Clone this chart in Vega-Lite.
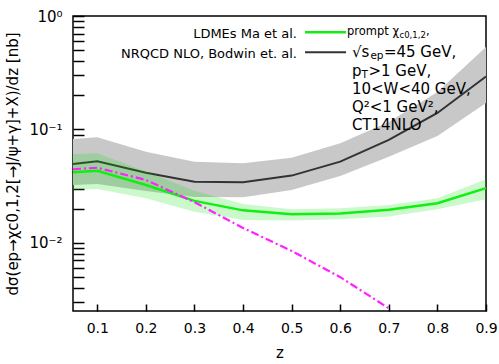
{
  "$schema": "https://vega.github.io/schema/vega-lite/v6.json",
  "width": 413,
  "height": 295,
  "autosize": {"type": "none"},
  "padding": {"left": 73, "top": 16, "right": 13, "bottom": 53},
  "config": {
    "font": "DejaVu Sans",
    "view": {"stroke": "black", "strokeWidth": 1.5},
    "axis": {"grid": false, "zindex": 1, "domain": false, "labelColor": "black", "titleColor": "black", "labelFont": "DejaVu Sans", "titleFont": "DejaVu Sans", "titleFontWeight": "normal"}
  },
  "data": {"values": [
    {"z": 0.05, "series": "NRQCD", "y": 0.0495, "lo": 0.0323, "hi": 0.0823},
    {"z": 0.1, "series": "NRQCD", "y": 0.0523, "lo": 0.0330, "hi": 0.0851},
    {"z": 0.2, "series": "NRQCD", "y": 0.0415, "lo": 0.0286, "hi": 0.0636},
    {"z": 0.3, "series": "NRQCD", "y": 0.0346, "lo": 0.0253, "hi": 0.0519},
    {"z": 0.4, "series": "NRQCD", "y": 0.0341, "lo": 0.0252, "hi": 0.0502},
    {"z": 0.5, "series": "NRQCD", "y": 0.0391, "lo": 0.0292, "hi": 0.0563},
    {"z": 0.6, "series": "NRQCD", "y": 0.0519, "lo": 0.0388, "hi": 0.0754},
    {"z": 0.7, "series": "NRQCD", "y": 0.0807, "lo": 0.0574, "hi": 0.116},
    {"z": 0.8, "series": "NRQCD", "y": 0.1395, "lo": 0.0874, "hi": 0.214},
    {"z": 0.9, "series": "NRQCD", "y": 0.293, "lo": 0.171, "hi": 0.533},
    {"z": 0.05, "series": "LDME", "y": 0.0418, "lo": 0.0292, "hi": 0.0603},
    {"z": 0.1, "series": "LDME", "y": 0.0432, "lo": 0.0298, "hi": 0.0616},
    {"z": 0.2, "series": "LDME", "y": 0.0323, "lo": 0.0247, "hi": 0.0424},
    {"z": 0.3, "series": "LDME", "y": 0.0234, "lo": 0.0188, "hi": 0.0288},
    {"z": 0.4, "series": "LDME", "y": 0.0193, "lo": 0.0159, "hi": 0.0220},
    {"z": 0.5, "series": "LDME", "y": 0.0178, "lo": 0.0157, "hi": 0.0197},
    {"z": 0.6, "series": "LDME", "y": 0.0181, "lo": 0.0161, "hi": 0.0201},
    {"z": 0.7, "series": "LDME", "y": 0.0195, "lo": 0.0170, "hi": 0.0215},
    {"z": 0.8, "series": "LDME", "y": 0.0223, "lo": 0.0197, "hi": 0.0247},
    {"z": 0.9, "series": "LDME", "y": 0.0303, "lo": 0.0242, "hi": 0.0363},
    {"z": 0.05, "series": "dashdot", "y": 0.0445},
    {"z": 0.1, "series": "dashdot", "y": 0.0459},
    {"z": 0.2, "series": "dashdot", "y": 0.0358},
    {"z": 0.3, "series": "dashdot", "y": 0.0228},
    {"z": 0.4, "series": "dashdot", "y": 0.0135},
    {"z": 0.5, "series": "dashdot", "y": 0.00847},
    {"z": 0.6, "series": "dashdot", "y": 0.00497},
    {"z": 0.7, "series": "dashdot", "y": 0.00264}
  ]},
  "layer": [
    {
      "transform": [{"filter": "datum.series === 'NRQCD'"}],
      "mark": {"type": "area", "color": "#c8c8c8", "opacity": 1},
      "encoding": {
        "x": {"field": "z", "type": "quantitative", "title": "z",
          "scale": {"domain": [0.05, 0.9], "nice": false, "zero": false},
          "axis": {"values": [0.1, 0.2, 0.3, 0.4, 0.5, 0.6, 0.7, 0.8, 0.9], "format": ".1f", "ticks": true, "tickColor": "black", "tickWidth": 1.5, "offset": -7, "tickSize": 7, "labelPadding": 10, "labelFontSize": 14, "titleFontSize": 15, "titlePadding": 10, "labelFlush": false}},
        "y": {"field": "lo", "type": "quantitative", "title": "dσ(ep→χc0,1,2[→J/ψ+γ]+X)/dz [nb]",
          "scale": {"type": "log", "domain": [0.0025, 1], "nice": false},
          "axis": {
            "values": [0.003, 0.004, 0.005, 0.006, 0.007, 0.008, 0.009, 0.01, 0.02, 0.03, 0.04, 0.05, 0.06, 0.07, 0.08, 0.09, 0.1, 0.2, 0.3, 0.4, 0.5, 0.6, 0.7, 0.8, 0.9, 1],
            "labelExpr": "datum.value == 1 ? '10⁰' : datum.value == 0.1 ? '10⁻¹' : datum.value == 0.01 ? '10⁻²' : ''",
            "offset": -11,
            "ticks": true,
            "tickSize": 11,
            "tickColor": "black",
            "tickWidth": 1.5,
            "labelPadding": 11, "labelFontSize": 15, "labelOverlap": false, "labelFlush": false, "titleFontSize": 15, "titlePadding": 8}},
        "y2": {"field": "hi"}
      }
    },
    {
      "transform": [{"filter": "datum.series === 'NRQCD'"}],
      "mark": {"type": "line", "color": "#333333", "strokeWidth": 2},
      "encoding": {"x": {"field": "z", "type": "quantitative"}, "y": {"field": "y", "type": "quantitative"}}
    },
    {
      "transform": [{"filter": "datum.series === 'LDME'"}],
      "mark": {"type": "area", "color": "#00e000", "opacity": 0.2},
      "encoding": {"x": {"field": "z", "type": "quantitative"}, "y": {"field": "lo", "type": "quantitative"}, "y2": {"field": "hi"}}
    },
    {
      "transform": [{"filter": "datum.series === 'LDME'"}],
      "mark": {"type": "line", "color": "#11ee11", "strokeWidth": 2.5},
      "encoding": {"x": {"field": "z", "type": "quantitative"}, "y": {"field": "y", "type": "quantitative"}}
    },
    {
      "transform": [{"filter": "datum.series === 'dashdot'"}],
      "mark": {"type": "line", "color": "#ff22ff", "strokeWidth": 2.2, "strokeDash": [8, 3, 2, 3]},
      "encoding": {"x": {"field": "z", "type": "quantitative"}, "y": {"field": "y", "type": "quantitative"}}
    },
    {
      "data": {"values": [{}]},
      "mark": {"type": "rule", "color": "#11ee11", "strokeWidth": 2.5},
      "encoding": {"x": {"datum": 0.5275}, "x2": {"datum": 0.612}, "y": {"datum": 0.718}}
    },
    {
      "data": {"values": [{}]},
      "mark": {"type": "rule", "color": "#333333", "strokeWidth": 2},
      "encoding": {"x": {"datum": 0.5275}, "x2": {"datum": 0.612}, "y": {"datum": 0.4786}}
    },
    {
      "data": {"values": [{}]},
      "mark": {"type": "text", "align": "right", "baseline": "middle", "fontSize": 13, "color": "black"},
      "encoding": {"x": {"datum": 0.511}, "y": {"datum": 0.70}, "text": {"value": "LDMEs Ma et al."}}
    },
    {
      "data": {"values": [{}]},
      "mark": {"type": "text", "align": "right", "baseline": "middle", "fontSize": 13, "color": "black"},
      "encoding": {"x": {"datum": 0.511}, "y": {"datum": 0.466}, "text": {"value": "NRQCD NLO, Bodwin et. al."}}
    },
    {
      "data": {"values": [{}]},
      "mark": {"type": "text", "align": "left", "baseline": "middle", "fontSize": 11.5, "color": "black"},
      "encoding": {"x": {"datum": 0.614}, "y": {"datum": 0.722}, "text": {"value": "prompt χ"}}
    },
    {
      "data": {"values": [{}]},
      "mark": {"type": "text", "align": "left", "baseline": "middle", "fontSize": 8.5, "color": "black", "dx": 52.5, "dy": 3},
      "encoding": {"x": {"datum": 0.614}, "y": {"datum": 0.722}, "text": {"value": "c0,1,2"}}
    },
    {
      "data": {"values": [{}]},
      "mark": {"type": "text", "align": "left", "baseline": "middle", "fontSize": 11.5, "color": "black", "dx": 79},
      "encoding": {"x": {"datum": 0.614}, "y": {"datum": 0.722}, "text": {"value": ","}}
    },
    {
      "data": {"values": [{}]},
      "mark": {"type": "text", "align": "left", "baseline": "middle", "fontSize": 15, "color": "black"},
      "encoding": {"x": {"datum": 0.624}, "y": {"datum": 0.4815}, "text": {"value": "√s"}}
    },
    {
      "data": {"values": [{}]},
      "mark": {"type": "text", "align": "left", "baseline": "middle", "fontSize": 10.5, "color": "black", "dx": 18.5, "dy": 4},
      "encoding": {"x": {"datum": 0.624}, "y": {"datum": 0.4815}, "text": {"value": "ep"}}
    },
    {
      "data": {"values": [{}]},
      "mark": {"type": "text", "align": "left", "baseline": "middle", "fontSize": 15, "color": "black", "dx": 32},
      "encoding": {"x": {"datum": 0.624}, "y": {"datum": 0.4815}, "text": {"value": "=45 GeV,"}}
    },
    {
      "data": {"values": [{}]},
      "mark": {"type": "text", "align": "left", "baseline": "middle", "fontSize": 15, "color": "black"},
      "encoding": {"x": {"datum": 0.624}, "y": {"datum": 0.327}, "text": {"value": "p"}}
    },
    {
      "data": {"values": [{}]},
      "mark": {"type": "text", "align": "left", "baseline": "middle", "fontSize": 10.5, "color": "black", "dx": 9.5, "dy": 4},
      "encoding": {"x": {"datum": 0.624}, "y": {"datum": 0.327}, "text": {"value": "T"}}
    },
    {
      "data": {"values": [{}]},
      "mark": {"type": "text", "align": "left", "baseline": "middle", "fontSize": 15, "color": "black", "dx": 16.5},
      "encoding": {"x": {"datum": 0.624}, "y": {"datum": 0.327}, "text": {"value": ">1 GeV,"}}
    },
    {
      "data": {"values": [{}]},
      "mark": {"type": "text", "align": "left", "baseline": "middle", "fontSize": 15, "color": "black"},
      "encoding": {"x": {"datum": 0.624}, "y": {"datum": 0.2286}, "text": {"value": "10<W<40 GeV,"}}
    },
    {
      "data": {"values": [{}]},
      "mark": {"type": "text", "align": "left", "baseline": "middle", "fontSize": 15, "color": "black"},
      "encoding": {"x": {"datum": 0.624}, "y": {"datum": 0.159}, "text": {"value": "Q²<1 GeV²,"}}
    },
    {
      "data": {"values": [{}]},
      "mark": {"type": "text", "align": "left", "baseline": "middle", "fontSize": 15, "color": "black"},
      "encoding": {"x": {"datum": 0.624}, "y": {"datum": 0.110}, "text": {"value": "CT14NLO"}}
    }
  ]
}
